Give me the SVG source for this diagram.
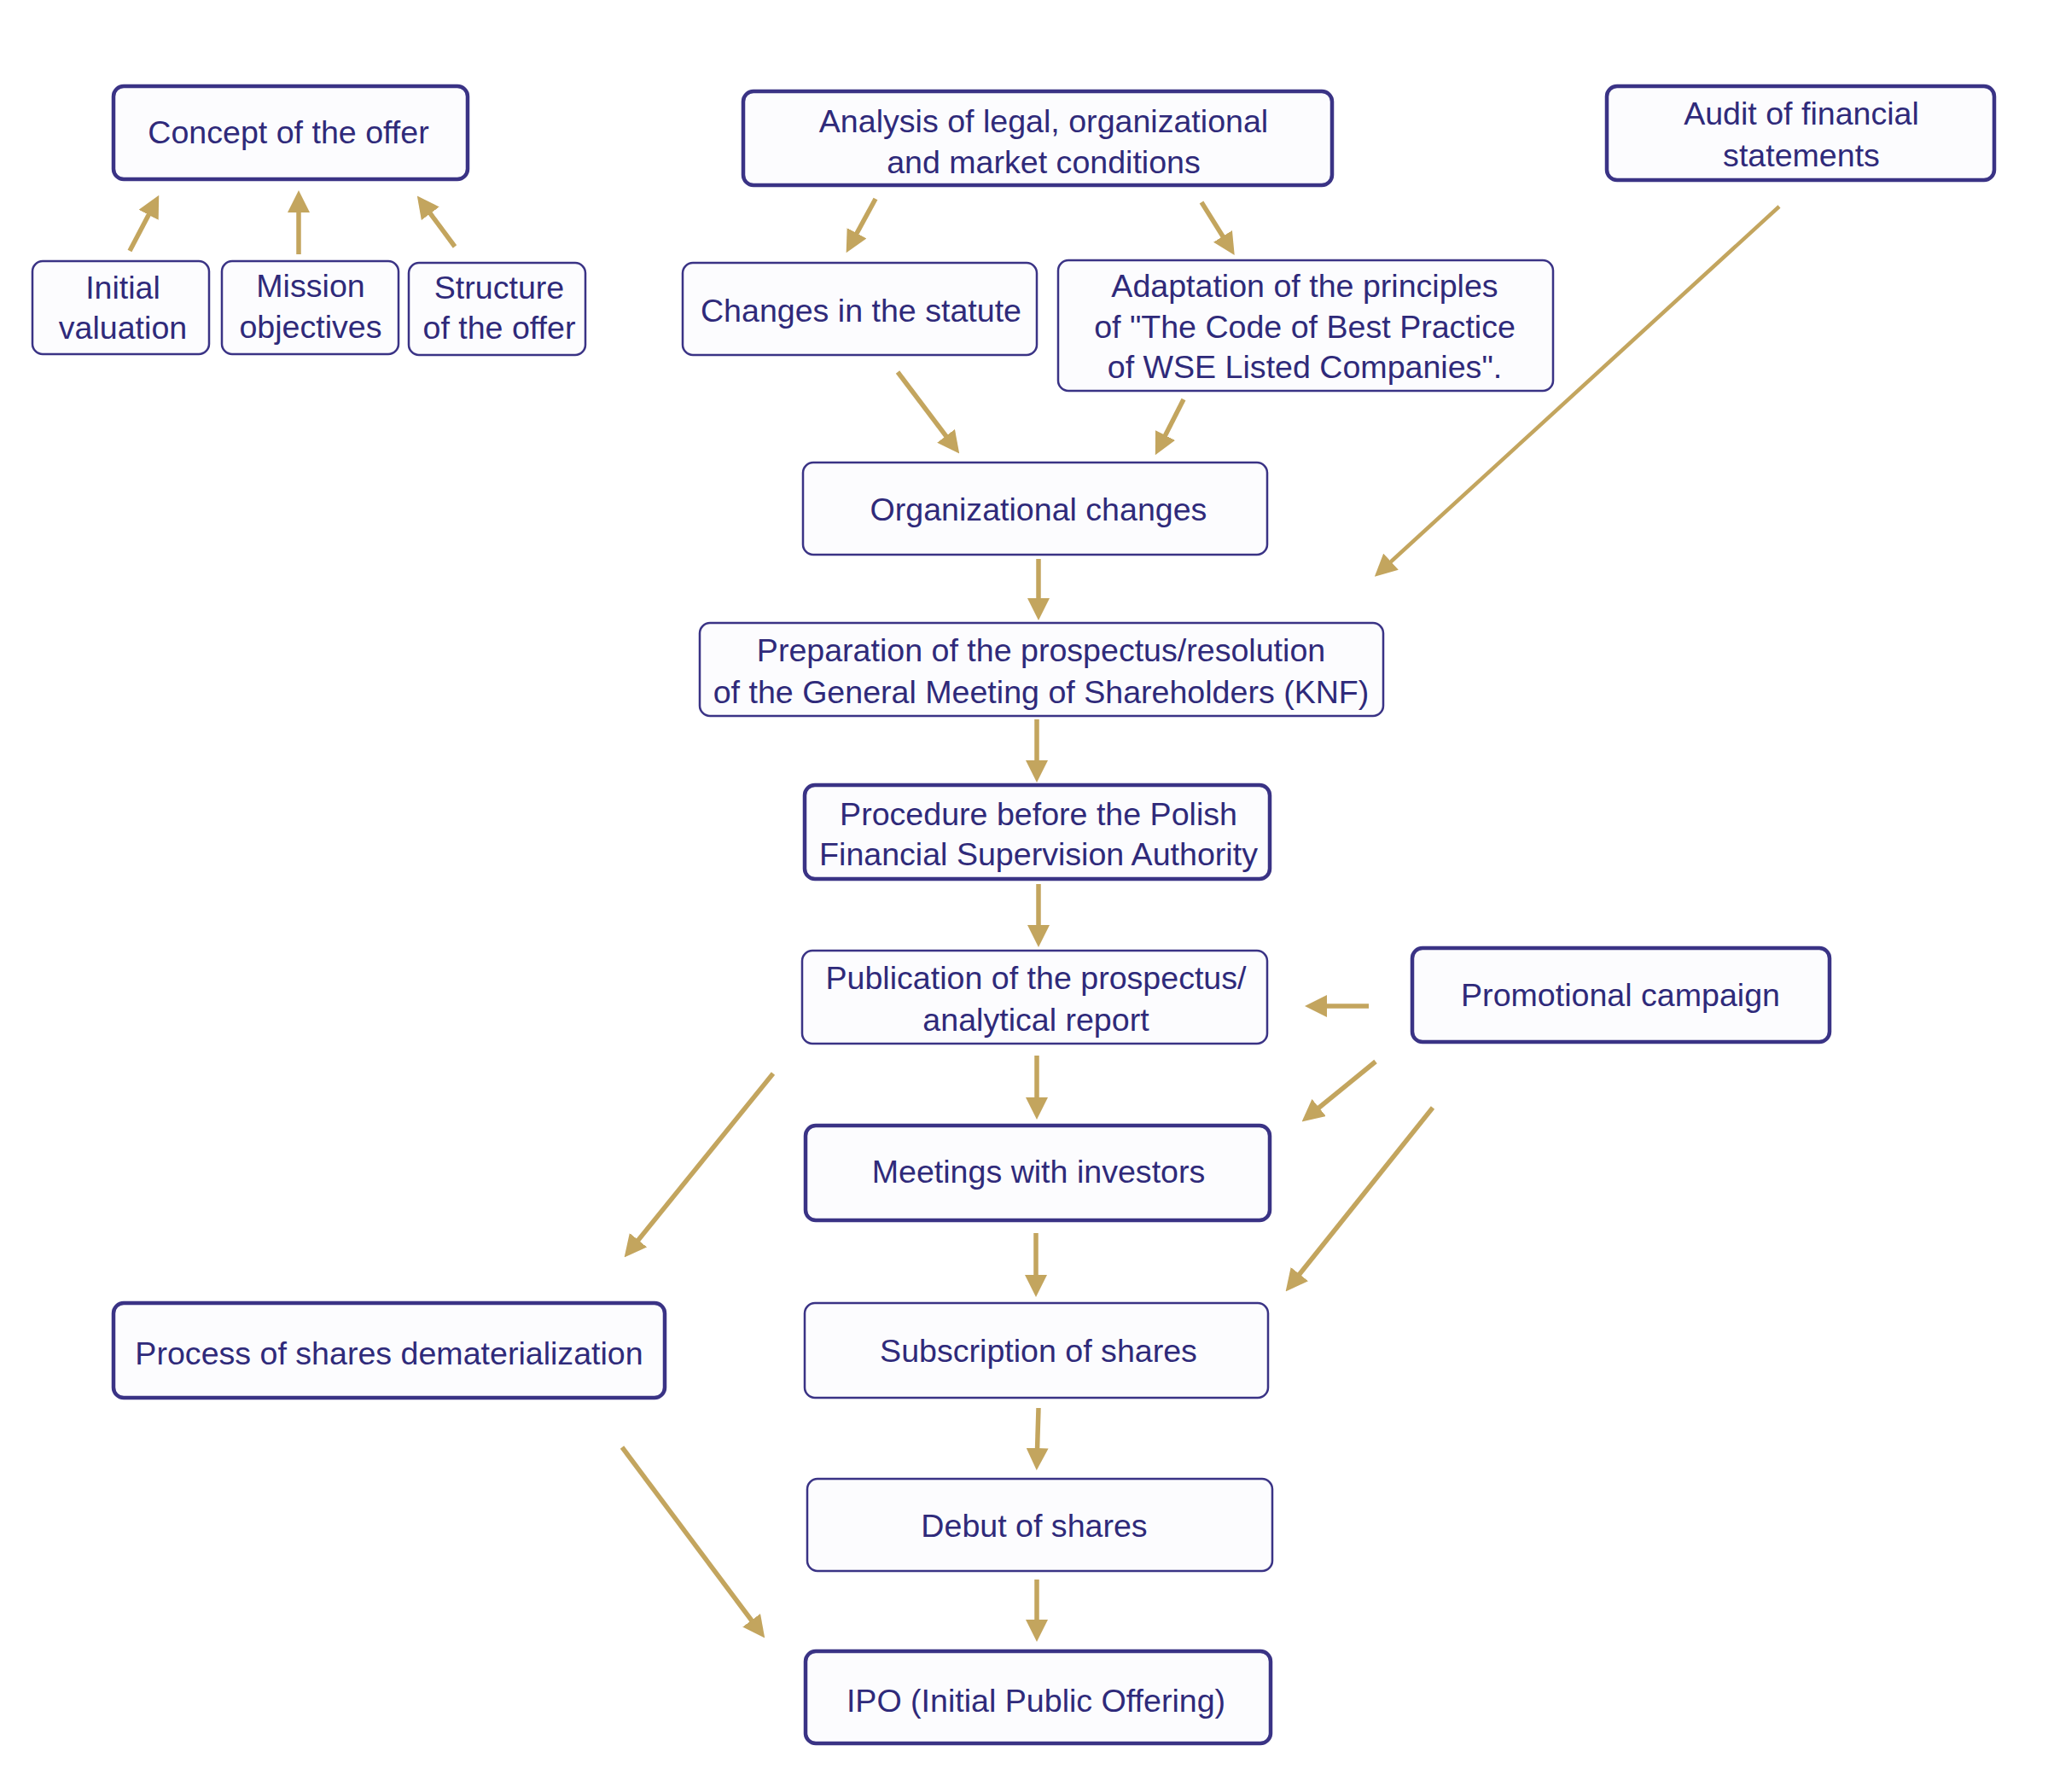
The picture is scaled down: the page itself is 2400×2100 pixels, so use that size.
<svg xmlns="http://www.w3.org/2000/svg" width="2400" height="2100" viewBox="0 0 2400 2100">
<style>
.box{fill:#fcfcfe;stroke:#3a3385;stroke-width:2.5}
.thick{stroke-width:4.5}
text{font-family:"Liberation Sans",Arial,sans-serif;font-size:37.6px;fill:#2f2a7a;text-anchor:middle}
.arr{stroke:#c3a55e;stroke-width:5.5;fill:none;marker-end:url(#ah)}
</style>
<defs>
<marker id="ah" markerUnits="userSpaceOnUse" viewBox="0 0 26 26" markerWidth="26" markerHeight="26" refX="19" refY="13" orient="auto">
<path d="M0,0 L26,13 L0,26 z" fill="#c3a55e"/>
</marker>
</defs>
<rect width="2400" height="2100" fill="#ffffff"/>
<g id="connectors">
<line class="arr" x1="152" y1="294" x2="183" y2="235"/>
<line class="arr" x1="350" y1="298" x2="350" y2="230"/>
<line class="arr" x1="533" y1="289" x2="493" y2="235"/>
<line class="arr" x1="1026" y1="233" x2="995" y2="290"/>
<line class="arr" x1="1408" y1="237" x2="1443" y2="293"/>
<line class="arr" x1="1052" y1="436" x2="1120" y2="526"/>
<line class="arr" x1="1387" y1="468" x2="1357" y2="527"/>
<line class="arr" x1="2085" y1="242" x2="1616" y2="671" style="stroke-width:4.5"/>
<line class="arr" x1="1217" y1="655" x2="1217" y2="720"/>
<line class="arr" x1="1215" y1="843" x2="1215" y2="910"/>
<line class="arr" x1="1217" y1="1036" x2="1217" y2="1103"/>
<line class="arr" x1="1604" y1="1179" x2="1536" y2="1179"/>
<line class="arr" x1="1215" y1="1237" x2="1215" y2="1305"/>
<line class="arr" x1="1612" y1="1244" x2="1531" y2="1310"/>
<line class="arr" x1="1679" y1="1298" x2="1511" y2="1508"/>
<line class="arr" x1="906" y1="1258" x2="736" y2="1468"/>
<line class="arr" x1="1214" y1="1445" x2="1214" y2="1513"/>
<line class="arr" x1="1217" y1="1650" x2="1215" y2="1716"/>
<line class="arr" x1="1215" y1="1851" x2="1215" y2="1917"/>
<line class="arr" x1="729" y1="1696" x2="892" y2="1914"/>
</g>
<g id="concept"><rect class="box thick" x="133" y="101" width="415" height="109" rx="12"/><text x="338" y="168">Concept of the offer</text></g>
<g id="initial"><rect class="box" x="38" y="306" width="207" height="109" rx="12"/><text x="144" y="350">Initial</text><text x="144" y="397">valuation</text></g>
<g id="mission"><rect class="box" x="260" y="306" width="207" height="109" rx="12"/><text x="364" y="348">Mission</text><text x="364" y="396">objectives</text></g>
<g id="structure"><rect class="box" x="479" y="308" width="207" height="108" rx="12"/><text x="585" y="350">Structure</text><text x="585" y="397">of the offer</text></g>
<g id="analysis"><rect class="box thick" x="871" y="107" width="690" height="110" rx="12"/><text x="1223" y="155">Analysis of legal, organizational</text><text x="1223" y="203">and market conditions</text></g>
<g id="audit"><rect class="box thick" x="1883" y="101" width="454" height="110" rx="12"/><text x="2111" y="146">Audit of financial</text><text x="2111" y="195">statements</text></g>
<g id="changes"><rect class="box" x="800" y="308" width="415" height="108" rx="12"/><text x="1009" y="377">Changes in the statute</text></g>
<g id="adaptation"><rect class="box" x="1240" y="305" width="580" height="153" rx="12"/><text x="1529" y="348">Adaptation of the principles</text><text x="1529" y="396">of "The Code of Best Practice</text><text x="1529" y="443">of WSE Listed Companies".</text></g>
<g id="orgchanges"><rect class="box" x="941" y="542" width="544" height="108" rx="12"/><text x="1217" y="610">Organizational changes</text></g>
<g id="preparation"><rect class="box" x="820" y="730" width="801" height="109" rx="12"/><text x="1220" y="775">Preparation of the prospectus/resolution</text><text x="1220" y="824">of the General Meeting of Shareholders (KNF)</text></g>
<g id="procedure"><rect class="box thick" x="943" y="920" width="545" height="110" rx="12"/><text x="1217" y="967">Procedure before the Polish</text><text x="1217" y="1014">Financial Supervision Authority</text></g>
<g id="publication"><rect class="box" x="940" y="1114" width="545" height="109" rx="12"/><text x="1214" y="1159">Publication of the prospectus/</text><text x="1214" y="1208">analytical report</text></g>
<g id="promotional"><rect class="box thick" x="1655" y="1111" width="489" height="110" rx="12"/><text x="1899" y="1179">Promotional campaign</text></g>
<g id="meetings"><rect class="box thick" x="944" y="1319" width="544" height="111" rx="12"/><text x="1217" y="1386">Meetings with investors</text></g>
<g id="dematerialization"><rect class="box thick" x="133" y="1527" width="646" height="111" rx="12"/><text x="456" y="1599">Process of shares dematerialization</text></g>
<g id="subscription"><rect class="box" x="943" y="1527" width="543" height="111" rx="12"/><text x="1217" y="1596">Subscription of shares</text></g>
<g id="debut"><rect class="box" x="946" y="1733" width="545" height="108" rx="12"/><text x="1212" y="1801">Debut of shares</text></g>
<g id="ipo"><rect class="box thick" x="944" y="1935" width="545" height="108" rx="12"/><text x="1214" y="2006">IPO (Initial Public Offering)</text></g>
</svg>
